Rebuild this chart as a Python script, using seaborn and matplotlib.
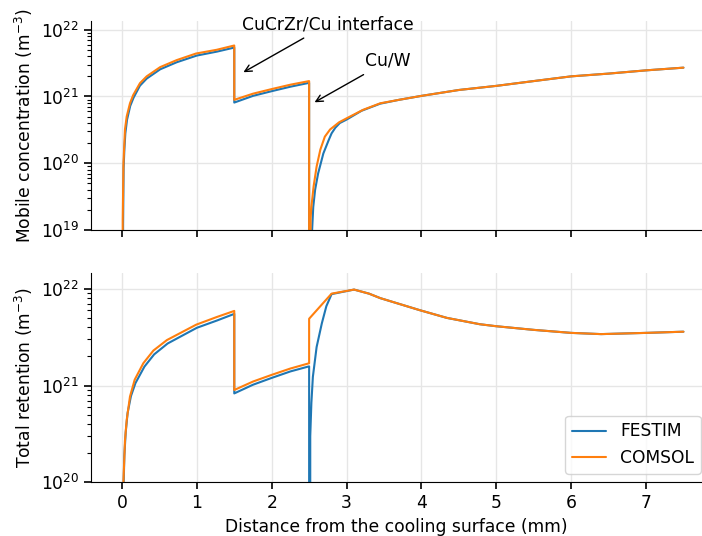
import numpy as np
import pandas as pd
import seaborn as sns
import matplotlib
matplotlib.use('Agg')
import matplotlib.pyplot as plt

# mobile concentration (m-3) vs distance (mm)
festim_mobile_x = [0, 0.015, 0.022, 0.032, 0.045, 0.068, 0.11, 0.155, 0.24, 0.33, 0.51, 0.73, 1.0, 1.27, 1.5,
                   1.5, 1.75, 2.0, 2.25, 2.5,
                   2.5, 2.54, 2.555, 2.58, 2.62, 2.69, 2.76, 2.8, 2.85, 2.91, 3.0, 3.2, 3.45,
                   3.7, 4.0, 4.5, 5.0, 5.5, 6.0, 6.5, 7.0, 7.5]
festim_mobile_c = [0, 1.2e19, 8.5e19, 1.6e20, 2.8e20, 4.5e20, 7.2e20, 9.6e20, 1.45e21, 1.85e21, 2.55e21, 3.25e21, 4.1e21, 4.7e21, 5.4e21,
                   8.1e20, 1.02e21, 1.2e21, 1.4e21, 1.6e21,
                   0, 1.0e19, 2.2e19, 4e19, 7e19, 1.4e20, 2.2e20, 2.8e20, 3.4e20, 4e20, 4.5e20, 6.1e20, 7.8e20,
                   8.9e20, 1.02e21, 1.25e21, 1.44e21, 1.7e21, 2.0e21, 2.2e21, 2.46e21, 2.7e21]

comsol_mobile_x = [0, 0.01, 0.02, 0.03, 0.04, 0.063, 0.107, 0.15, 0.24, 0.33, 0.51, 0.73, 0.99, 1.265, 1.5,
                   1.5, 1.75, 2.0, 2.25, 2.5,
                   2.5, 2.52, 2.53, 2.56, 2.6, 2.65, 2.71, 2.78, 2.9, 3.0, 3.22, 3.45,
                   3.7, 4.0, 4.5, 5.0, 5.5, 6.0, 6.5, 7.0, 7.5]
comsol_mobile_c = [0, 1.4e19, 1.0e20, 1.8e20, 3.2e20, 5.0e20, 7.9e20, 1.05e21, 1.58e21, 2.0e21, 2.75e21, 3.5e21, 4.4e21, 5.0e21, 5.8e21,
                   8.9e20, 1.1e21, 1.29e21, 1.5e21, 1.7e21,
                   0, 1.5e19, 2.2e19, 4.5e19, 8.9e19, 1.6e20, 2.5e20, 3.2e20, 4.1e20, 4.7e20, 6.3e20, 7.9e20,
                   8.9e20, 1.02e21, 1.25e21, 1.44e21, 1.7e21, 2.0e21, 2.2e21, 2.46e21, 2.7e21]

# total retention (m-3)
festim_ret_x = [0, 0.022, 0.032, 0.05, 0.075, 0.12, 0.18, 0.3, 0.43, 0.61, 1.0, 1.27, 1.5,
                1.5, 1.75, 2.0, 2.25, 2.5,
                2.5, 2.515, 2.53, 2.55, 2.6, 2.67, 2.73, 2.8, 3.1, 3.3, 3.45, 3.98, 4.34, 4.78,
                5.0, 5.5, 6.0, 6.4, 7.0, 7.5]
festim_ret_c = [0, 9.5e19, 1.9e20, 3.3e20, 5.2e20, 7.8e20, 1.06e21, 1.57e21, 2.1e21, 2.72e21, 3.95e21, 4.7e21, 5.5e21,
                8.3e20, 1.02e21, 1.2e21, 1.4e21, 1.58e21,
                0, 3e20, 6.6e20, 1.23e21, 2.5e21, 4.4e21, 6.6e21, 8.8e21, 9.8e21, 8.9e21, 8.0e21, 6.0e21, 5.0e21, 4.3e21,
                4.1e21, 3.76e21, 3.5e21, 3.4e21, 3.5e21, 3.6e21]

comsol_ret_x = [0, 0.02, 0.04, 0.063, 0.107, 0.17, 0.285, 0.42, 0.6, 0.99, 1.265, 1.5,
                1.5, 1.75, 2.0, 2.25, 2.5,
                2.5, 2.8, 3.1, 3.3, 3.45, 3.98, 4.34, 4.78,
                5.0, 5.5, 6.0, 6.4, 7.0, 7.5]
comsol_ret_c = [0, 1.05e20, 2.7e20, 4.4e20, 7.7e20, 1.15e21, 1.7e21, 2.3e21, 2.95e21, 4.25e21, 5.1e21, 5.9e21,
                9.0e20, 1.1e21, 1.29e21, 1.5e21, 1.7e21,
                4.9e21, 8.9e21, 9.8e21, 8.9e21, 8.0e21, 6.0e21, 5.0e21, 4.3e21,
                4.1e21, 3.76e21, 3.5e21, 3.4e21, 3.5e21, 3.6e21]

codes = ['FESTIM', 'COMSOL']


def long_form(x1, c1, x2, c2):
    df1 = pd.DataFrame({'x': x1, 'c': c1, 'code': codes[0]})
    df2 = pd.DataFrame({'x': x2, 'c': c2, 'code': codes[1]})
    return pd.concat([df1, df2], ignore_index=True)


mobile = long_form(festim_mobile_x, festim_mobile_c, comsol_mobile_x, comsol_mobile_c)
retention = long_form(festim_ret_x, festim_ret_c, comsol_ret_x, comsol_ret_c)

fs = 12.3
sns.set_style('ticks', rc={'text.color': 'black', 'axes.labelcolor': 'black',
                           'xtick.color': 'black', 'ytick.color': 'black',
                           'axes.edgecolor': 'black'})
plt.rcParams['font.family'] = ['DejaVu Sans']
plt.rcParams['font.size'] = fs

palette = {'FESTIM': '#1f77b4', 'COMSOL': '#ff7f0e'}

fig = plt.figure(figsize=(7.02, 5.36), dpi=100)
ax1 = fig.add_axes([0.1296, 0.571, 0.8704, 0.389])
ax2 = fig.add_axes([0.1296, 0.100, 0.8704, 0.391], sharex=ax1)

sns.lineplot(data=mobile, x='x', y='c', hue='code', palette=palette,
             estimator=None, sort=False, lw=1.5, ax=ax1, legend=False)
sns.lineplot(data=retention, x='x', y='c', hue='code', palette=palette,
             estimator=None, sort=False, lw=1.5, ax=ax2)

for ax in (ax1, ax2):
    ax.set_yscale('log', nonpositive='clip')
    ax.grid(True, which='major', color='#e6e6e6', lw=1)
    ax.tick_params(which='major', length=5, width=1.2, labelsize=fs)
    ax.tick_params(which='minor', length=3, width=0.8)
    sns.despine(ax=ax)

ax1.set_xlim(-0.414, 7.748)
ax1.set_ylim(1e19, 1.33e22)
ax2.set_ylim(1e20, 1.46e22)
ax1.tick_params(labelbottom=False)
ax1.set_xlabel('')
ax1.set_ylabel('Mobile concentration (m$^{-3}$)', fontsize=fs)
ax2.set_ylabel('Total retention (m$^{-3}$)', fontsize=fs)
ax2.set_xlabel('Distance from the cooling surface (mm)', fontsize=fs)

ax1.annotate('CuCrZr/Cu interface', xy=(1.59, 2.2e21), xytext=(2.75, 1.2e22),
             ha='center', va='center', fontsize=fs,
             arrowprops=dict(arrowstyle='->', color='black'))
ax1.annotate('Cu/W', xy=(2.54, 7.8e20), xytext=(3.55, 3.4e21),
             ha='center', va='center', fontsize=fs,
             arrowprops=dict(arrowstyle='->', color='black'))

sns.move_legend(ax2, 'lower right', bbox_to_anchor=(1.012, 0), title=None, fontsize=fs)

fig.savefig('out.png', dpi=100)
